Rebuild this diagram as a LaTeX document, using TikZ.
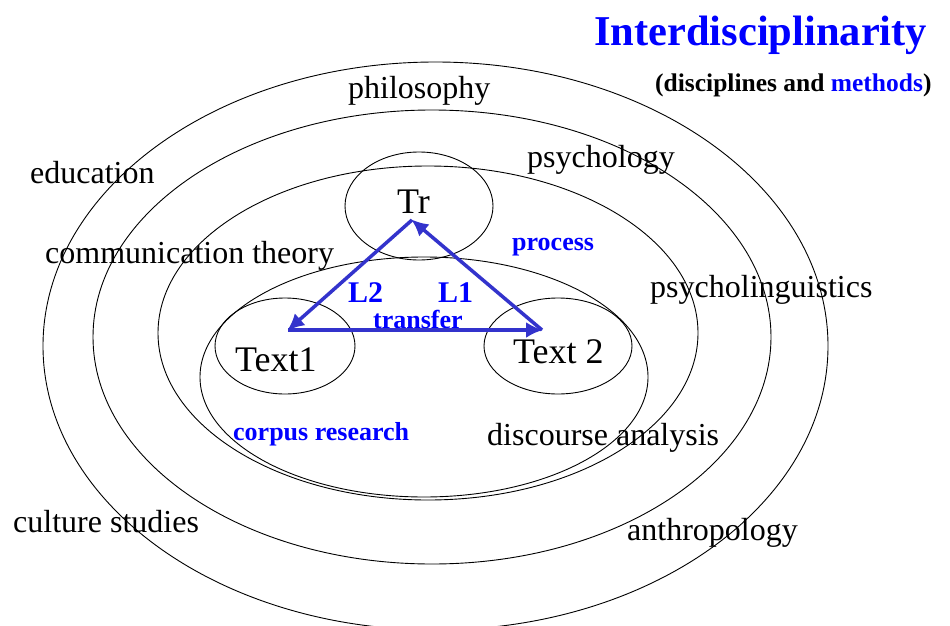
\documentclass[tikz,border=0pt]{standalone}
\usepackage{fontspec}
\setmainfont{Liberation Serif}
\usetikzlibrary{arrows.meta,shapes.geometric}
\definecolor{arrowblue}{RGB}{51,51,204}
\definecolor{txtblue}{RGB}{0,0,255}
\tikzset{
  ring/.style={draw=black, line width=0.9pt},
  lbl/.style={anchor=base west, inner sep=0pt, font=\fontsize{32}{36}\selectfont},
  biglbl/.style={anchor=base west, inner sep=0pt, font=\fontsize{36}{40}\selectfont},
  bluelbl/.style={anchor=base west, inner sep=0pt, text=txtblue, font=\fontsize{26}{30}\selectfont\bfseries},
  flow/.style={draw=arrowblue, line width=3.5pt, -{Latex[length=17pt,width=16pt]}, shorten >=-1pt},
  oval/.style={draw=black, line width=0.9pt, ellipse, inner sep=0pt}
}
\begin{document}
\begin{tikzpicture}[x=1pt,y=-1pt]
\useasboundingbox (0,0) rectangle (950,626);
\fill[white] (0,0) rectangle (950,626);
% concentric rings
\draw[ring] (435.5,346) ellipse [x radius=392.5, y radius=284];
\draw[ring] (432,337) ellipse [x radius=339, y radius=227];
\draw[ring] (428,333) ellipse [x radius=270, y radius=167];
\draw[ring] (424,377) ellipse [x radius=224, y radius=120];
% inner ovals
\node[oval, minimum width=148pt, minimum height=108pt] (trov) at (419,206) {};
\node[oval, minimum width=140pt, minimum height=96pt] (t1ov) at (285,346) {};
\node[oval, minimum width=148pt, minimum height=96pt] (t2ov) at (558,346) {};
% titles
\node[anchor=base west, inner sep=0pt, text=txtblue, font=\fontsize{42.5}{46}\selectfont\bfseries] (title) at (594,46) {Interdisciplinarity};
\node[anchor=base west, inner sep=0pt, font=\fontsize{25.5}{30}\selectfont\bfseries] (sub) at (655,92) {(disciplines and \textcolor{txtblue}{methods})};
% discipline labels
\node[lbl] (phil) at (348,98) {philosophy};
\node[lbl] (edu) at (30,183) {education};
\node[lbl] (psy) at (527,167) {psychology};
\node[lbl] (comm) at (45,263) {communication theory};
\node[lbl] (psyl) at (650,297) {psycholinguistics};
\node[lbl] (disc) at (487,445) {discourse analysis};
\node[lbl] (cult) at (13,532) {culture studies};
\node[lbl] (anth) at (627,540) {anthropology};
% node texts
\node[biglbl] (tr) at (397,213) {Tr};
\node[biglbl] (t1) at (235,371) {Text1};
\node[biglbl] (t2) at (513,363) {Text 2};
% blue method labels
\node[bluelbl] (proc) at (512,250) {process};
\node[bluelbl, font=\fontsize{30}{34}\selectfont\bfseries] (l2) at (348,302) {L2};
\node[bluelbl, font=\fontsize{30}{34}\selectfont\bfseries] (l1) at (438,302) {L1};
\node[bluelbl] (trans) at (373,328) {transfer};
\node[bluelbl] (corp) at (233,440) {corpus research};
% triangle
\coordinate (A) at (412,220);
\coordinate (B) at (288,330);
\coordinate (C) at (542,330);
\draw[flow] (A) -- (B);
\draw[flow] (C) -- (A);
\draw[flow] (B) -- (C);
\end{tikzpicture}
\end{document}
